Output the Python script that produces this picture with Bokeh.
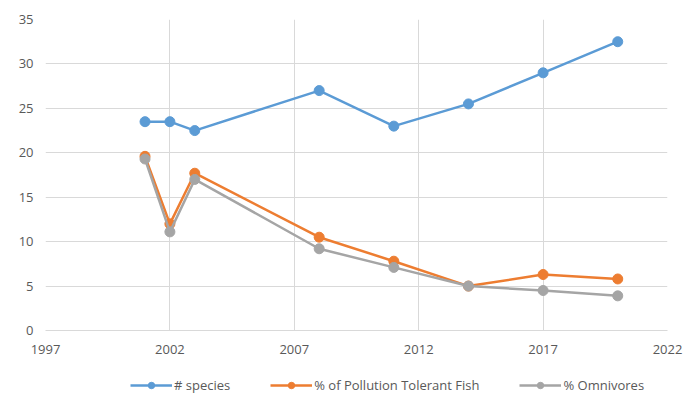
from bokeh.plotting import figure
from bokeh.models import FixedTicker, Legend, LegendItem, Range1d
from bokeh.layouts import column
from bokeh.embed import file_html
from bokeh.resources import INLINE

years = [2001, 2002, 2003, 2008, 2011, 2014, 2017, 2020]
species = [23.5, 23.5, 22.5, 27.0, 23.0, 25.5, 29.0, 32.5]
pollution_tolerant = [19.6, 12.0, 17.7, 10.5, 7.8, 5.0, 6.3, 5.8]
omnivores = [19.3, 11.1, 17.0, 9.2, 7.1, 5.0, 4.5, 3.9]
x_ticks = [1997, 2002, 2007, 2012, 2017, 2022]
y_ticks = [0, 5, 10, 15, 20, 25, 30, 35]

series = [
    ("# species", species, "#5B9BD5"),
    ("% of Pollution Tolerant Fish", pollution_tolerant, "#ED7D31"),
    ("% Omnivores", omnivores, "#A5A5A5"),
]

font = "Open Sans"

p = figure(width=686, height=357, frame_width=622, frame_height=311,
           output_backend="svg", toolbar_location=None,
           x_range=Range1d(1997, 2022), y_range=Range1d(0, 35),
           min_border_left=45, min_border_right=19, min_border_top=19, min_border_bottom=0)
p.outline_line_color = None
p.background_fill_color = "white"
p.border_fill_color = "white"

for ax in (p.xaxis, p.yaxis):
    ax.major_label_text_font = font
    ax.major_label_text_font_size = "13px"
    ax.major_label_text_color = "#595959"
    ax.major_tick_line_color = None
    ax.minor_tick_line_color = None
    ax.major_tick_out = 0
    ax.major_tick_in = 0
p.xaxis.ticker = FixedTicker(ticks=x_ticks)
p.yaxis.ticker = FixedTicker(ticks=y_ticks)
p.xaxis.axis_line_color = "#D9D9D9"
p.yaxis.axis_line_color = None
p.xaxis.major_label_standoff = 14
p.yaxis.major_label_standoff = 12
p.xgrid.grid_line_color = "#D9D9D9"
p.ygrid.grid_line_color = "#D9D9D9"
p.xgrid.ticker = FixedTicker(ticks=x_ticks)
p.ygrid.ticker = FixedTicker(ticks=y_ticks)

for name, vals, color in series:
    p.line(years, vals, line_color=color, line_width=2.5)
    p.scatter(years, vals, size=10, fill_color=color, line_color=color)

# Legend strip below the chart (its series lie outside its visible range)
lf = figure(width=686, height=42, output_backend="svg", toolbar_location=None,
            x_range=Range1d(0, 1), y_range=Range1d(0, 1), min_border=0)
lf.axis.visible = False
lf.grid.visible = False
lf.outline_line_color = None
items = []
for name, vals, color in series:
    l = lf.line(years, vals, line_color=color, line_width=2.5)
    s = lf.scatter(years, vals, size=8, fill_color=color, line_color=color)
    items.append(LegendItem(label=name, renderers=[l, s]))

legend = Legend(items=items, orientation="horizontal", location=(85, 4),
                label_text_font=font, label_text_font_size="13px",
                label_text_color="#595959", glyph_width=42, glyph_height=16,
                spacing=40, border_line_color=None, background_fill_alpha=0,
                margin=0, padding=2, label_standoff=2, label_height=16)
lf.add_layout(legend, "center")

layout = column(p, lf, spacing=0)
open("out.html", "w").write(file_html(layout, INLINE))
